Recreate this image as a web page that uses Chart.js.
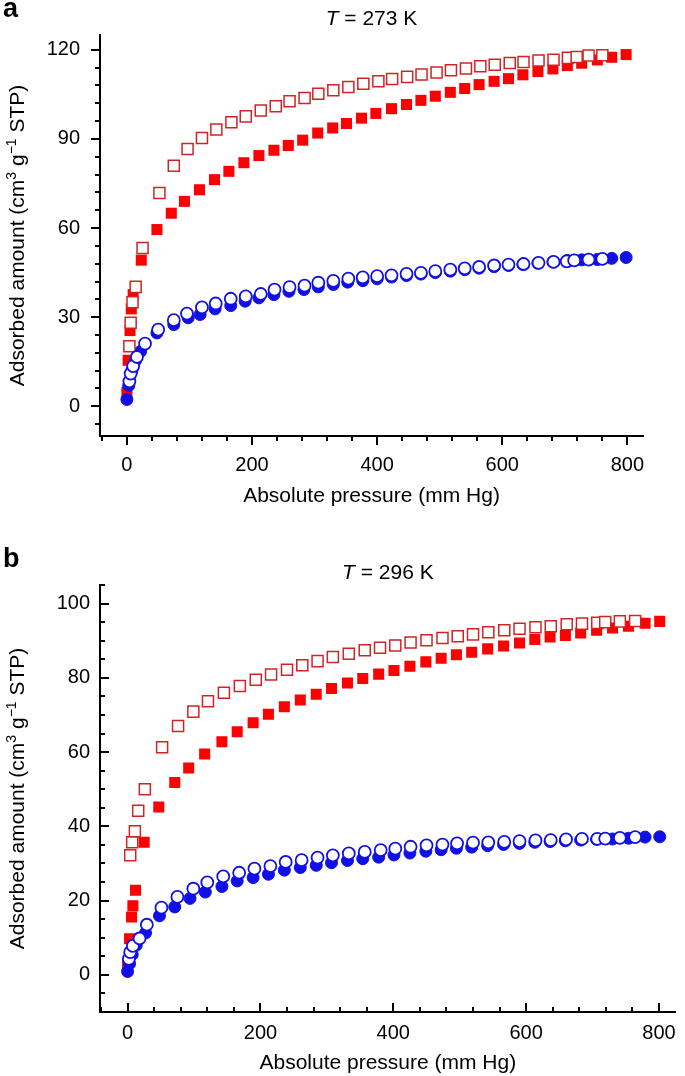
<!DOCTYPE html>
<html>
<head>
<meta charset="utf-8">
<script src="https://cdn.jsdelivr.net/npm/chart.js@4.4.1/dist/chart.umd.min.js"></script>
<style>
  html, body { margin: 0; padding: 0; background: #fff; }
  #wrapA { position: absolute; left: 0; top: 0; width: 685px; height: 530px; }
  #wrapB { position: absolute; left: 0; top: 530px; width: 685px; height: 546px; }
</style>
</head>
<body>
<div id="wrapA"><canvas id="chartA"></canvas></div>
<div id="wrapB"><canvas id="chartB"></canvas></div>
<script>
// ---- panel a, T = 273 K ----
var aRedAdsP = [0, 2, 5, 7, 10, 23, 48, 71, 92, 116, 140, 163, 187, 211, 235, 258, 281, 305, 329, 351, 375, 398, 423, 447, 470, 493, 517, 540, 563, 587, 610, 633, 657, 681, 704, 727, 752, 775, 798];
var aRedAdsQ = [4.7, 15.5, 25.5, 32.8, 37.6, 49.2, 59.5, 65, 69, 72.9, 76.3, 79.1, 82, 84.4, 86.2, 87.8, 89.6, 92, 93.7, 95.2, 97, 98.6, 100.2, 101.6, 103, 104.4, 105.7, 107, 108.3, 109.4, 110.3, 111.6, 112.7, 113.6, 114.7, 115.5, 116.6, 117.5, 118.4];
var aRedDesP = [4, 6, 9, 14, 25, 52, 75, 97, 120, 143, 167, 190, 214, 238, 260, 284, 306, 330, 354, 378, 402, 424, 448, 471, 495, 518, 542, 565, 588, 612, 634, 658, 682, 705, 719, 738, 760];
var aRedDesQ = [20.2, 28.1, 35, 40.2, 53.3, 71.8, 81, 86.6, 90.3, 93.2, 95.6, 97.6, 99.6, 101, 102.7, 103.8, 105.2, 106.4, 107.5, 108.6, 109.4, 110.2, 110.9, 111.7, 112.4, 113.1, 113.7, 114.5, 115, 115.6, 115.9, 116.4, 116.7, 117.3, 117.6, 118.1, 118.2];
var aBlueAdsP = [0, 3, 8, 14, 22, 48, 75, 98, 117, 141, 166, 189, 211, 235, 259, 283, 306, 330, 353, 377, 400, 423, 447, 470, 493, 517, 540, 563, 587, 610, 633, 657, 681, 704, 727, 752, 775, 798];
var aBlueAdsQ = [2.3, 7, 12, 15.5, 18.5, 24.7, 27.5, 29.8, 30.9, 32.8, 33.9, 35.4, 36.5, 37.6, 38.7, 39.3, 40.2, 41, 41.8, 42.3, 42.9, 43.5, 44, 44.5, 45, 45.5, 46, 46.5, 47, 47.4, 47.8, 48.2, 48.6, 49.1, 49.3, 49.4, 49.8, 50.1];
var aBlueDesP = [4, 6, 10, 16, 29, 50, 75, 96, 120, 142, 166, 190, 214, 236, 260, 284, 306, 330, 354, 377, 400, 423, 447, 470, 493, 517, 540, 563, 587, 610, 634, 658, 682, 703, 715, 738, 760];
var aBlueDesQ = [8.4, 11, 13.5, 16.6, 21.1, 25.8, 29, 31.2, 33.3, 34.6, 36.2, 37, 37.8, 39.3, 40.1, 40.6, 41.6, 42.2, 43, 43.4, 43.8, 44.1, 44.6, 44.9, 45.5, 46, 46.4, 46.9, 47.4, 47.7, 47.9, 48.3, 48.6, 48.8, 49.1, 49.4, 49.6];
var aYTicks = [0, 30, 60, 90, 120];

// ---- panel b, T = 296 K ----
var bRedAdsP = [0, 3, 6, 8, 12, 25, 47, 71, 92, 116, 142, 165, 189, 212, 236, 260, 284, 307, 331, 354, 378, 401, 425, 449, 472, 495, 518, 542, 566, 590, 613, 636, 659, 682, 706, 730, 754, 779, 801];
var bRedAdsQ = [3, 9.7, 15.6, 18.6, 22.8, 35.7, 45.2, 51.8, 55.7, 59.5, 62.8, 65.5, 67.9, 70.2, 72.2, 74, 75.6, 77.1, 78.6, 79.8, 81, 82, 83.1, 84.3, 85.3, 86.2, 86.9, 87.8, 88.6, 89.4, 90.3, 91, 91.4, 92.1, 92.8, 93.4, 93.9, 94.7, 95.2];
var bRedDesP = [4, 7, 11, 16, 26, 52, 76, 99, 121, 145, 169, 193, 216, 240, 263, 286, 309, 333, 357, 380, 403, 426, 450, 474, 497, 520, 543, 567, 590, 614, 637, 661, 684, 707, 719, 741, 764];
var bRedDesQ = [32.2, 35.7, 38.7, 44.2, 50, 61.3, 67, 70.9, 73.7, 76, 77.8, 79.5, 80.9, 82.2, 83.4, 84.5, 85.6, 86.5, 87.4, 88.1, 88.7, 89.5, 90.1, 90.7, 91.2, 91.7, 92.3, 92.8, 93.2, 93.6, 93.9, 94.4, 94.6, 94.8, 95, 95.2, 95.3];
var bBlueAdsP = [0, 3, 7, 13, 27, 48, 71, 94, 117, 142, 165, 189, 212, 236, 260, 284, 307, 331, 354, 378, 401, 425, 449, 472, 495, 518, 542, 566, 590, 613, 636, 659, 682, 706, 730, 754, 779, 801];
var bBlueAdsQ = [0.9, 3, 5.5, 8, 11.3, 15.9, 18.3, 20.6, 22.3, 23.8, 25.3, 26.2, 27.1, 28.2, 28.9, 29.5, 30.2, 30.8, 31.3, 31.7, 32.3, 32.8, 33.3, 33.7, 34.1, 34.4, 34.8, 35.1, 35.4, 35.7, 35.9, 36.1, 36.3, 36.5, 36.6, 36.8, 37.1, 37.2];
var bBlueDesP = [2, 4, 8, 18, 29, 51, 75, 99, 120, 144, 168, 191, 215, 238, 262, 286, 309, 333, 357, 381, 403, 426, 450, 474, 496, 520, 543, 567, 590, 614, 637, 660, 684, 707, 719, 741, 764];
var bBlueDesQ = [4.3, 6.1, 7.8, 9.8, 13.5, 18.1, 21, 23.2, 24.9, 26.5, 27.5, 28.6, 29.3, 30.4, 30.9, 31.6, 32.2, 32.7, 33.1, 33.6, 34, 34.5, 34.9, 35.1, 35.4, 35.6, 35.7, 35.8, 36, 36.2, 36.3, 36.5, 36.6, 36.6, 36.7, 36.9, 37.1];
var bYTicks = [0, 20, 40, 60, 80, 100];

var xTicks = [0, 200, 400, 600, 800];

var FONT = '"Liberation Sans", Arial, Helvetica, sans-serif';
var RED = '#ff0000', RED_EDGE = '#d02424', BLUE = '#1010e6';

function pts(xs, ys) {
    return xs.map(function (x, i) { return {x: x, y: ys[i]}; });
}

// minor/major tick marks, panel letter, title and y title with superscripts
var decor = {
    id: 'decor',
    afterDraw: function (chart, args, o) {
        var ctx = chart.ctx, a = chart.chartArea;
        var xs = chart.scales.x, ys = chart.scales.y;
        var dir = o.inward ? -1 : 1;
        ctx.save();
        ctx.strokeStyle = '#000';
        ctx.lineWidth = 2;
        ctx.beginPath();
        for (var v = Math.ceil(xs.min / o.xMinor) * o.xMinor; v <= xs.max; v += o.xMinor) {
            var len = xTicks.indexOf(v) >= 0 ? 9 : 5;
            var px = Math.round(xs.getPixelForValue(v));
            ctx.moveTo(px, a.bottom);
            ctx.lineTo(px, a.bottom + dir * len);
        }
        for (var w = Math.ceil(ys.min / o.yMinor) * o.yMinor; w <= ys.max; w += o.yMinor) {
            var len2 = o.yMajor.indexOf(w) >= 0 ? 9 : 5;
            var py = Math.round(ys.getPixelForValue(w));
            ctx.moveTo(a.left, py);
            ctx.lineTo(a.left - dir * len2, py);
        }
        ctx.stroke();

        ctx.fillStyle = '#000';
        ctx.textBaseline = 'alphabetic';
        // panel letter
        ctx.textAlign = 'left';
        ctx.font = 'bold 27px ' + FONT;
        ctx.fillText(o.letter, 3, o.letterY);

        // title: italic T
        var cx = (a.left + a.right) / 2;
        ctx.font = 'italic 21px ' + FONT;
        var wT = ctx.measureText('T').width;
        ctx.font = '21px ' + FONT;
        var rest = ' = ' + o.temp;
        var wR = ctx.measureText(rest).width;
        var x0 = cx - (wT + wR) / 2;
        ctx.font = 'italic 21px ' + FONT;
        ctx.fillText('T', x0, o.titleY);
        ctx.font = '21px ' + FONT;
        ctx.fillText(rest, x0 + wT, o.titleY);

        // y axis title
        var parts = [['Adsorbed amount (cm', 0], ['3', 1], [' g', 0], ['\u22121', 1], [' STP)', 0]];
        var total = 0;
        parts.forEach(function (p) {
            ctx.font = (p[1] ? '14px ' : '21px ') + FONT;
            p.push(ctx.measureText(p[0]).width);
            total += p[2];
        });
        ctx.translate(o.yTitleX, (a.top + a.bottom) / 2);
        ctx.rotate(-Math.PI / 2);
        var sx = -total / 2;
        parts.forEach(function (p) {
            ctx.font = (p[1] ? '14px ' : '21px ') + FONT;
            ctx.fillText(p[0], sx, p[1] ? -8 : 0);
            sx += p[2];
        });
        ctx.restore();
    }
};

function makeChart(id, d) {
    var datasets = [
        {data: pts(d.blueDesP, d.blueDesQ), pointStyle: 'circle', pointRadius: 6, backgroundColor: '#fff', borderColor: BLUE, borderWidth: 1.8},
        {data: pts(d.redDesP, d.redDesQ), pointStyle: 'rect', pointRadius: 7.8, backgroundColor: '#fff', borderColor: RED_EDGE, borderWidth: 1.5},
        {data: pts(d.blueAdsP, d.blueAdsQ), pointStyle: 'circle', pointRadius: 6, backgroundColor: BLUE, borderColor: BLUE, borderWidth: 1},
        {data: pts(d.redAdsP, d.redAdsQ), pointStyle: 'rect', pointRadius: 7.8, backgroundColor: RED, borderColor: RED, borderWidth: 0}
    ];
    return new Chart(document.getElementById(id), {
        type: 'scatter',
        data: {datasets: datasets},
        plugins: [decor],
        options: {
            responsive: true,
            maintainAspectRatio: false,
            animation: false,
            layout: {padding: {left: 0, top: d.padTop, right: d.padRight, bottom: 0}},
            plugins: {
                legend: {display: false},
                tooltip: {enabled: false},
                decor: d.decor
            },
            elements: {point: {hoverRadius: 6}},
            scales: {
                x: {
                    type: 'linear',
                    min: d.xMin,
                    max: 825,
                    afterBuildTicks: function (s) { s.ticks = xTicks.map(function (v) { return {value: v}; }); },
                    afterFit: function (s) { s.height = d.xHeight; },
                    grid: {display: false, drawTicks: false},
                    border: {display: true, color: '#000', width: 2},
                    ticks: {color: '#000', font: {family: FONT, size: 20}, padding: d.xPad, maxRotation: 0, autoSkip: false,
                        callback: function (v) { return String(v); }},
                    title: {display: true, text: 'Absolute pressure (mm Hg)', color: '#000',
                        font: {family: FONT, size: 21}, padding: {top: 0, bottom: d.xTitlePad}}
                },
                y: {
                    type: 'linear',
                    min: -10,
                    max: d.yMax,
                    afterBuildTicks: function (s) { s.ticks = d.yTicks.map(function (v) { return {value: v}; }); },
                    afterFit: function (s) { s.width = 100; },
                    grid: {display: false, drawTicks: false},
                    border: {display: true, color: '#000', width: 2},
                    ticks: {color: '#000', font: {family: FONT, size: 20}, padding: d.yPad,
                        callback: function (v) { return String(v); }}
                }
            }
        }
    });
}

makeChart('chartA', {
    redAdsP: aRedAdsP, redAdsQ: aRedAdsQ, redDesP: aRedDesP, redDesQ: aRedDesQ,
    blueAdsP: aBlueAdsP, blueAdsQ: aBlueAdsQ, blueDesP: aBlueDesP, blueDesQ: aBlueDesQ,
    yTicks: aYTicks, yMax: 125, xMin: -43,
    padTop: 35, padRight: 42, xHeight: 94, xPad: 17, xTitlePad: 21, yPad: 20,
    decor: {inward: false, xMinor: 40, yMinor: 6, yMajor: aYTicks, letter: 'a', letterY: 17,
        temp: '273 K', titleY: 25, yTitleX: 24}
});

makeChart('chartB', {
    redAdsP: bRedAdsP, redAdsQ: bRedAdsQ, redDesP: bRedDesP, redDesQ: bRedDesQ,
    blueAdsP: bBlueAdsP, blueAdsQ: bBlueAdsQ, blueDesP: bBlueDesP, blueDesQ: bBlueDesQ,
    yTicks: bYTicks, yMax: 105, xMin: -41.5,
    padTop: 55, padRight: 5, xHeight: 64, xPad: 9, xTitlePad: 0, yPad: 10,
    decor: {inward: true, xMinor: 40, yMinor: 5, yMajor: bYTicks, letter: 'b', letterY: 37,
        temp: '296 K', titleY: 49, yTitleX: 24}
});
</script>
</body>
</html>
